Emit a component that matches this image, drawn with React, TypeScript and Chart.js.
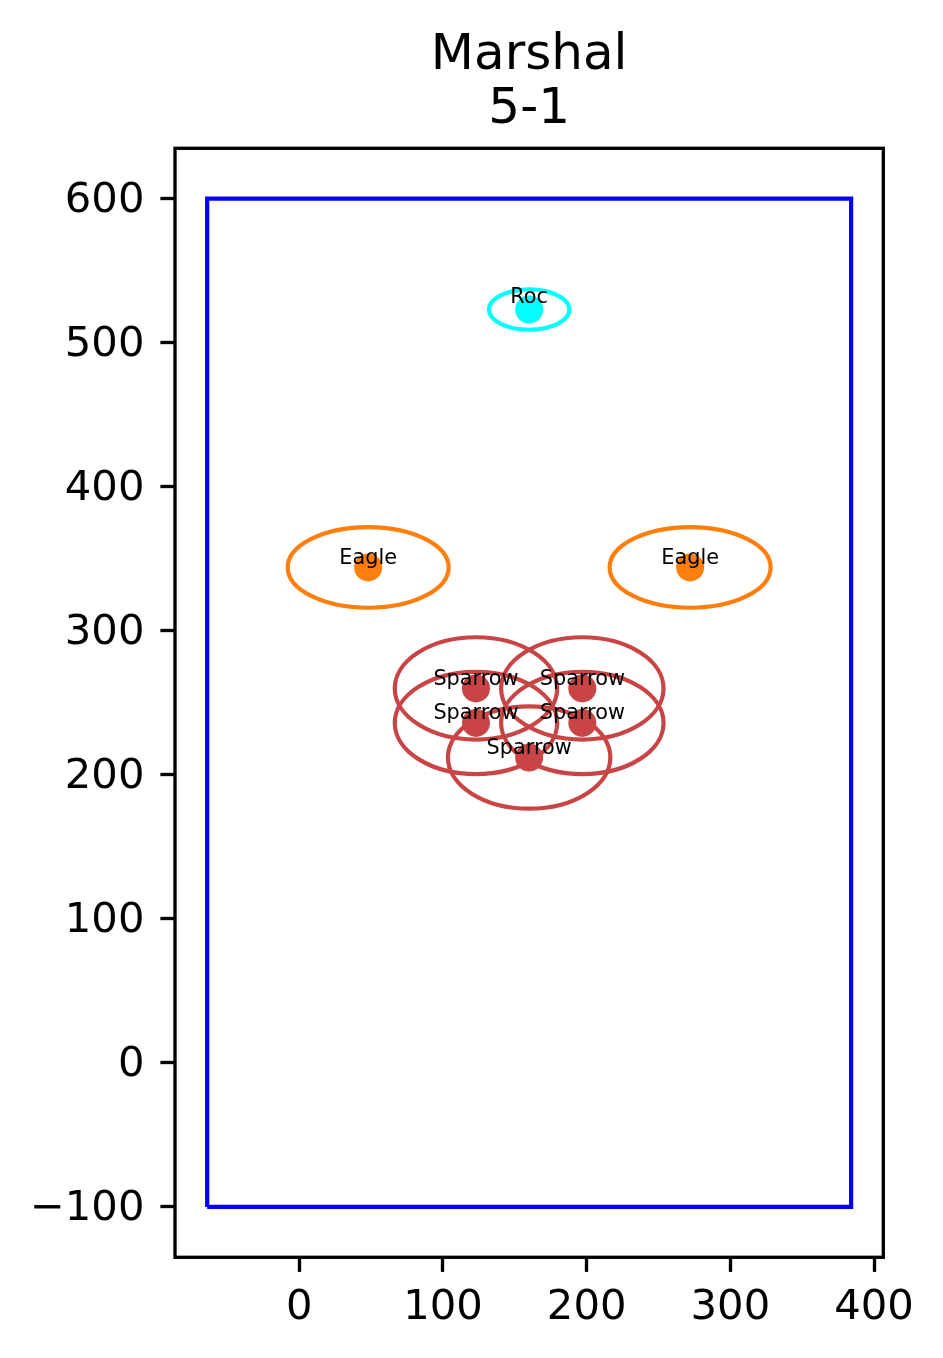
import React, { useEffect, useRef } from 'react';
import { Chart, registerables } from 'chart.js';

Chart.register(...registerables);

// ---- data ----
const titleLines = ['Marshal', '5-1'];
const birdNames = ['Roc', 'Eagle', 'Eagle', 'Sparrow', 'Sparrow', 'Sparrow', 'Sparrow', 'Sparrow'];
const birdX = [160, 48, 272, 123, 197, 123, 197, 160];
const birdY = [523, 344, 344, 260, 260, 236, 236, 212];
const rangeRx = [28, 56, 56, 56.5, 56.5, 56.5, 56.5, 56.5];
const rangeRy = [14, 28, 28, 35.5, 35.5, 35.5, 35.5, 35.5];
const birdTypes = ['Roc', 'Eagle', 'Sparrow'];
const birdColors: Record<string, string> = { Roc: '#00ffff', Eagle: '#ff7f0e', Sparrow: '#c94444' };
const boundaryX = [-64, -64, 384, 384, -64];
const boundaryY = [-100, 600, 600, -100, -100];
const xTicks = [0, 100, 200, 300, 400];
const yTicks = [-100, 0, 100, 200, 300, 400, 500, 600];
const xLimits = [-86.4, 406.4];
const yLimits = [-135, 635];

const FONT = "'DejaVu Sans', 'Liberation Sans', sans-serif";
const W = 943;
const H = 1358;

const fmt = (v: number) => (v < 0 ? '\u2212' + Math.abs(v) : String(v));

const overlayPlugin = {
  id: 'overlay',
  beforeDatasetsDraw(chart: any) {
    const { ctx, scales } = chart;
    const x = scales.x;
    const y = scales.y;
    ctx.save();
    birdNames.forEach((n, i) => {
      const cx = x.getPixelForValue(birdX[i]);
      const cy = y.getPixelForValue(birdY[i]);
      const rx = Math.abs(x.getPixelForValue(birdX[i] + rangeRx[i]) - cx);
      const ry = Math.abs(y.getPixelForValue(birdY[i] + rangeRy[i]) - cy);
      ctx.beginPath();
      ctx.ellipse(cx, cy, rx, ry, 0, 0, Math.PI * 2);
      ctx.strokeStyle = birdColors[n];
      ctx.lineWidth = 4.2;
      ctx.stroke();
    });
    ctx.restore();
  },
  afterDatasetsDraw(chart: any) {
    const { ctx, scales } = chart;
    const x = scales.x;
    const y = scales.y;
    ctx.save();
    ctx.font = `20.8px ${FONT}`;
    ctx.fillStyle = '#000';
    ctx.textAlign = 'center';
    ctx.textBaseline = 'alphabetic';
    birdNames.forEach((n, i) => {
      const cx = x.getPixelForValue(birdX[i]);
      const cy = y.getPixelForValue(birdY[i]);
      ctx.fillText(n, cx, cy - (n === 'Roc' ? 7 : 3.5));
    });
    ctx.restore();
  },
  afterDraw(chart: any) {
    const { ctx, chartArea } = chart;
    ctx.save();
    ctx.strokeStyle = '#000';
    ctx.lineWidth = 3.33;
    ctx.strokeRect(chartArea.left, chartArea.top, chartArea.right - chartArea.left, chartArea.bottom - chartArea.top);
    ctx.font = `50px ${FONT}`;
    ctx.fillStyle = '#000';
    ctx.textAlign = 'center';
    ctx.textBaseline = 'alphabetic';
    const cx = (chartArea.left + chartArea.right) / 2;
    titleLines.forEach((t, i) => {
      ctx.fillText(t, cx, 69.3 + i * 54);
    });
    ctx.restore();
  },
};

export default function App() {
  const ref = useRef<HTMLCanvasElement | null>(null);

  useEffect(() => {
    if (!ref.current) return;
    const datasets: any[] = [
      {
        label: 'boundary',
        data: boundaryX.map((v, i) => ({ x: v, y: boundaryY[i] })),
        showLine: true,
        borderColor: '#0000ff',
        borderWidth: 4.2,
        pointRadius: 0,
        fill: false,
        tension: 0,
      },
      ...birdTypes.map((t) => ({
        label: t,
        data: birdNames
          .map((n, i) => (n === t ? { x: birdX[i], y: birdY[i] } : null))
          .filter((p) => p !== null),
        showLine: false,
        pointRadius: 14,
        pointHoverRadius: 14,
        pointBackgroundColor: birdColors[t],
        backgroundColor: birdColors[t],
        pointBorderWidth: 0,
        borderWidth: 0,
      })),
    ];

    const tickFont = { family: FONT, size: 41.7 };
    const chart = new Chart(ref.current, {
      type: 'scatter',
      data: { datasets },
      plugins: [overlayPlugin],
      options: {
        animation: false,
        responsive: false,
        devicePixelRatio: 1,
        events: [],
        layout: { padding: { top: 148.3, right: W - 883.3, left: 0, bottom: 0 } },
        plugins: {
          legend: { display: false },
          title: { display: false },
          tooltip: { enabled: false },
        },
        scales: {
          x: {
            type: 'linear',
            min: xLimits[0],
            max: xLimits[1],
            afterBuildTicks: (s: any) => {
              s.ticks = xTicks.map((v) => ({ value: v }));
            },
            afterFit: (s: any) => {
              s.height = H - 1257.3;
            },
            ticks: {
              font: tickFont,
              color: '#000',
              padding: 11,
              maxRotation: 0,
              autoSkip: false,
              callback: (v: any) => fmt(Number(v)),
            },
            grid: {
              display: true,
              drawOnChartArea: false,
              drawTicks: true,
              tickLength: 14.6,
              tickWidth: 3.33,
              tickColor: '#000',
            },
            border: { display: false },
          },
          y: {
            type: 'linear',
            min: yLimits[0],
            max: yLimits[1],
            afterBuildTicks: (s: any) => {
              s.ticks = yTicks.map((v) => ({ value: v }));
            },
            afterFit: (s: any) => {
              s.width = 175;
            },
            ticks: {
              font: tickFont,
              color: '#000',
              padding: 16,
              labelOffset: 2,
              autoSkip: false,
              callback: (v: any) => fmt(Number(v)),
            },
            grid: {
              display: true,
              drawOnChartArea: false,
              drawTicks: true,
              tickLength: 14.6,
              tickWidth: 3.33,
              tickColor: '#000',
            },
            border: { display: false },
          },
        },
      } as any,
    });
    return () => chart.destroy();
  }, []);

  return (
    <div style={{ position: 'absolute', left: 0, top: 0, width: W, height: H, background: '#fff' }}>
      <canvas ref={ref} width={W} height={H} style={{ width: W, height: H, display: 'block' }} />
    </div>
  );
}
